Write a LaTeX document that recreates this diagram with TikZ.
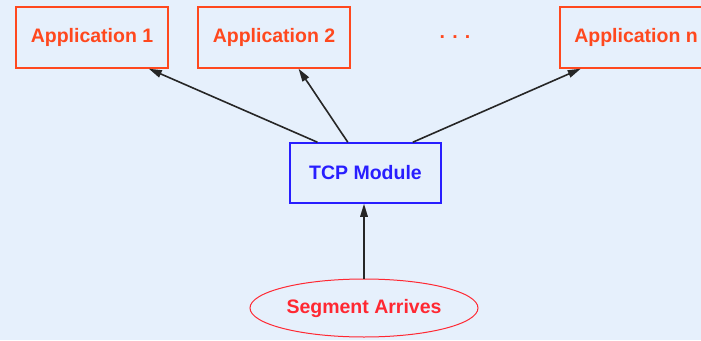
\documentclass[tikz,border=0pt]{standalone}
\usepackage{fontspec}
\setmainfont{Liberation Sans}
\usetikzlibrary{arrows.meta,shapes.geometric,calc}
\definecolor{bg}{RGB}{230,240,252}
\definecolor{apporange}{RGB}{255,72,30}
\definecolor{tcpblue}{RGB}{40,30,255}
\definecolor{segred}{RGB}{255,40,50}
\tikzset{
  appbox/.style={draw=apporange, line width=1.4pt, text=apporange, font=\fontsize{19.5}{22}\selectfont\bfseries, minimum width=152pt, minimum height=61pt, inner sep=0pt},
  tcpbox/.style={draw=tcpblue, line width=1.5pt, text=tcpblue, font=\fontsize{19.5}{22}\selectfont\bfseries, minimum width=151pt, minimum height=60pt, inner sep=0pt},
  segell/.style={ellipse, draw=segred, line width=1pt, text=segred, font=\fontsize{19.5}{22}\selectfont\bfseries, minimum width=228pt, minimum height=58pt, inner sep=0pt},
  conn/.style={line width=1.6pt, black!85, -{Triangle[length=13pt,width=7.5pt]}}
}
\begin{document}
\begin{tikzpicture}[x=1pt,y=-1pt]
\useasboundingbox (0,0) rectangle (701,340);
\fill[bg] (0,0) rectangle (701,340);
\clip (0,0) rectangle (701,340);
\node[appbox] (app1) at (92,37.5) {Application 1};
\node[appbox] (app2) at (274,37.5) {Application 2};
\node[appbox] (appn) at (636,37.5) {Application n};
\node[text=apporange, font=\fontsize{19.5}{22}\selectfont\bfseries] (dots) at (455,37) {. . .};
\node[tcpbox] (tcp) at (365.5,173) {TCP Module};
\node[segell] (seg) at (364,308) {Segment Arrives};
\draw[conn] ($(tcp.north west)!0.185!(tcp.north east)$) -- ($(app1.south west)!0.87!(app1.south east)$);
\draw[conn] ($(tcp.north west)!0.384!(tcp.north east)$) -- ($(app2.south west)!0.66!(app2.south east)$);
\draw[conn] ($(tcp.north west)!0.81!(tcp.north east)$) -- ($(appn.south west)!0.14!(appn.south east)$);
\draw[conn] (seg.north) -- (seg.north |- tcp.south);
\end{tikzpicture}
\end{document}
